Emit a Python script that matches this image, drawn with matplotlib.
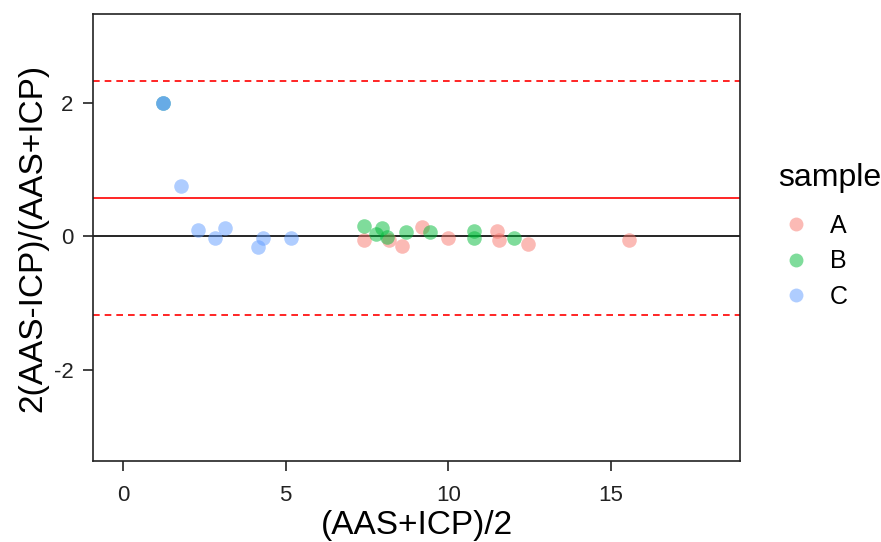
import matplotlib
matplotlib.use("Agg")
import matplotlib.pyplot as plt
from matplotlib.lines import Line2D

plt.rcParams['font.family'] = ['Liberation Sans', 'DejaVu Sans']
plt.rcParams['axes.unicode_minus'] = False

# mean of (AAS+ICP)/2 and relative difference, per sample
a_x = [7.42, 8.19, 8.58, 9.20, 9.99, 11.50, 11.55, 12.47, 15.55]
a_y = [-0.06, -0.06, -0.15, 0.14, -0.03, 0.08, -0.05, -0.12, -0.05]
b_x = [1.23, 7.42, 7.78, 7.96, 8.11, 8.69, 9.45, 10.78, 10.78, 12.03]
b_y = [2.00, 0.15, 0.04, 0.13, -0.01, 0.07, 0.07, 0.08, -0.03, -0.03]
c_x = [1.23, 1.23, 1.78, 2.31, 2.83, 3.14, 4.15, 4.31, 5.17]
c_y = [2.00, 2.00, 0.75, 0.09, -0.03, 0.12, -0.16, -0.03, -0.03]

mean_diff = 0.57
upper_loa = 2.32
lower_loa = -1.18

colors = {"A": "#F8766D", "B": "#00BA38", "C": "#619CFF"}

fig = plt.figure(figsize=(8.81, 5.42), dpi=100)
ax = fig.add_axes([0.1056, 0.149, 0.7344, 0.825])

ax.axhline(0, color="black", lw=1.2)
ax.axhline(mean_diff, color="#FF0000", lw=1.2)
ax.axhline(upper_loa, color="#FF0000", lw=1.2, ls=(0, (4, 3)))
ax.axhline(lower_loa, color="#FF0000", lw=1.2, ls=(0, (4, 3)))

for lab, xs, ys in [("A", a_x, a_y), ("B", b_x, b_y), ("C", c_x, c_y)]:
    ax.scatter(xs, ys, s=110, color=colors[lab], alpha=0.5, lw=0, zorder=3)

ax.set_xlim(-0.93, 18.98)
ax.set_ylim(-3.37, 3.33)
ax.set_xticks([0, 5, 10, 15])
ax.set_yticks([-2, 0, 2])
ax.tick_params(length=7, width=1.2, labelsize=16, colors="#222222", pad=7)
ax.tick_params(axis="x", pad=10)
for sp in ax.spines.values():
    sp.set_linewidth(1.2)
    sp.set_color("#222222")

ax.set_xlabel("(AAS+ICP)/2", fontsize=24, labelpad=3)
ax.set_ylabel("2(AAS-ICP)/(AAS+ICP)", fontsize=24, labelpad=4)

# legend: title drawn separately so the gap below it can match
fig.text(0.883, 1 - 178 / 542, "sample", fontsize=23, va="center", ha="left")
handles = [Line2D([], [], marker="o", ls="", markersize=10, markeredgewidth=0,
                  color=colors[k], alpha=0.5, label=k) for k in ["A", "B", "C"]]
leg = fig.legend(handles=handles, loc="upper left",
                 bbox_to_anchor=(0.883, 1 - 214 / 542), frameon=False, fontsize=18,
                 handlelength=1.44, handletextpad=0.64, labelspacing=0.46,
                 borderaxespad=0, borderpad=0)

fig.savefig("out.png", dpi=100)
